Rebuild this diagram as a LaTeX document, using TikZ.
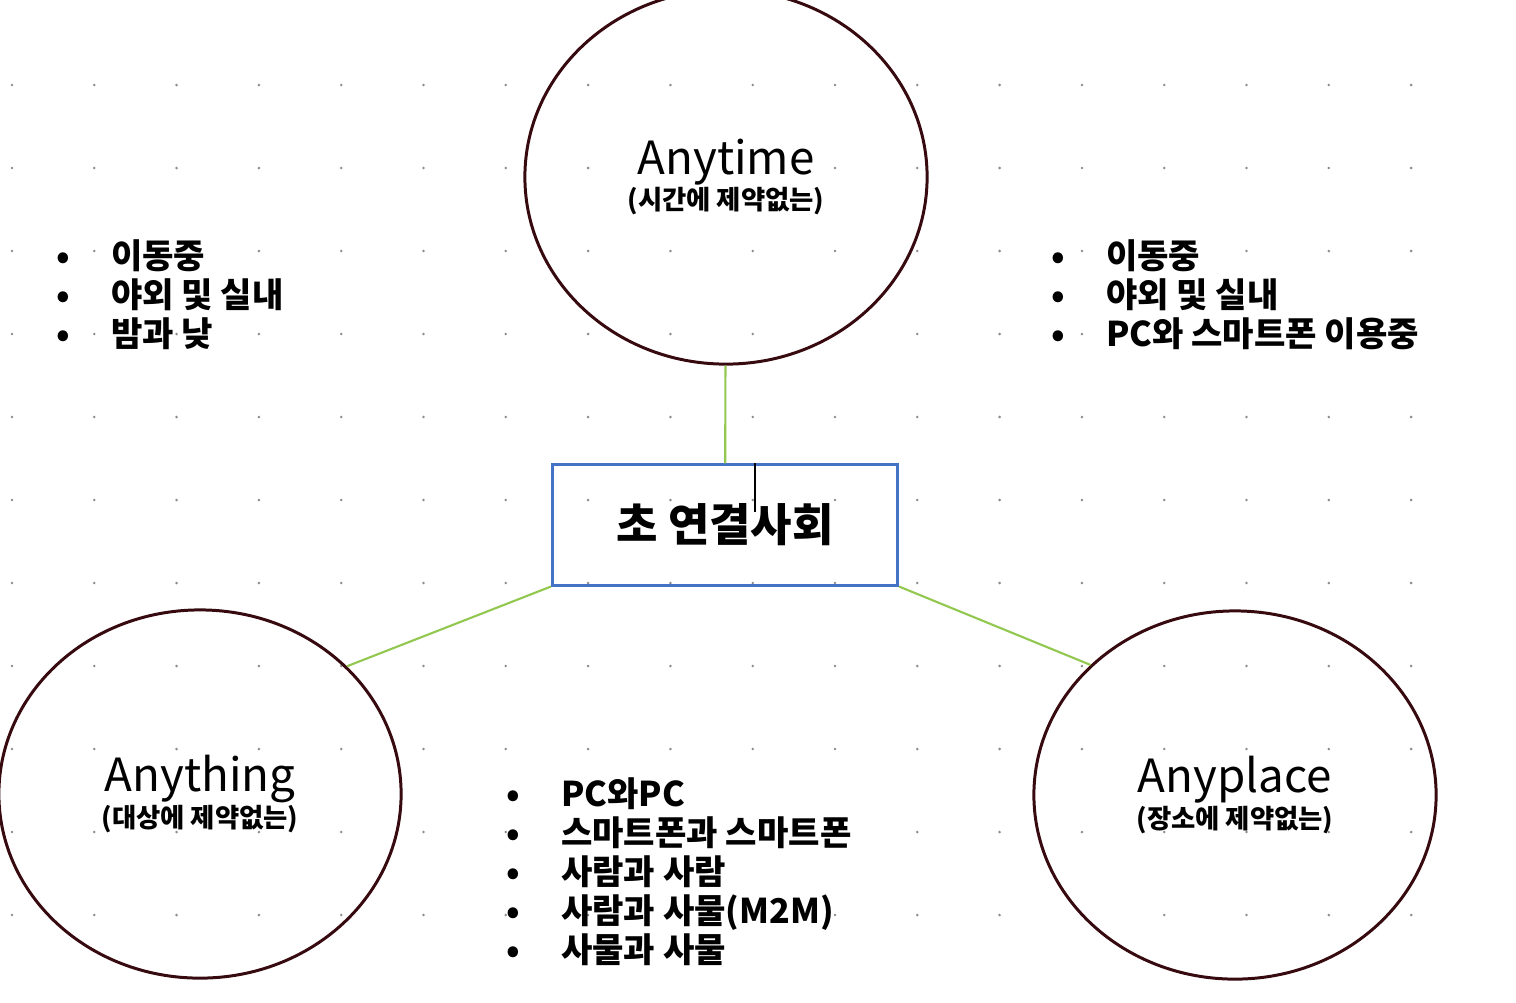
\documentclass[tikz,border=0pt]{standalone}
\usepackage{fontspec}
\setmainfont{Noto Sans CJK KR}
\usetikzlibrary{shapes.geometric,positioning}

\definecolor{ringred}{RGB}{55,10,16}
\definecolor{boxblue}{RGB}{68,114,196}
\definecolor{linkgreen}{RGB}{146,200,80}
\definecolor{dotgray}{RGB}{140,140,140}

\newcommand{\itm}[1]{\makebox[15.5pt][l]{•}#1}

\tikzset{
  any/.style={ellipse, draw=ringred, line width=0.85pt, inner sep=0pt,
    minimum width=4.02cm, minimum height=3.68cm, align=center,
    font=\fontsize{13}{16}\selectfont},
  hub/.style={rectangle, draw=boxblue, line width=0.85pt,
    minimum width=3.45cm, minimum height=1.2cm, font=\bfseries\fontsize{12.8}{14}\selectfont},
  link/.style={draw=linkgreen, line width=0.6pt},
  itemlist/.style={inner sep=0pt, align=left, font=\bfseries\fontsize{9.7}{11.1}\selectfont},
  griddot/.style={fill=dotgray}
}

\newcommand{\sub}[1]{{\bfseries\fontsize{7.5}{9}\selectfont #1}}

\begin{document}
\begin{tikzpicture}[x=0.01cm,y=-0.01cm]
  \useasboundingbox (0,0) rectangle (1516,1002);
  \clip (0,0) rectangle (1516,1002);

  % dot grid
  \foreach \i in {0,...,17}
    \foreach \j in {0,...,10}
      \fill[griddot] (12+82.3*\i,85+83*\j) circle (0.4pt);

  \node[any, minimum height=3.74cm] (anytime) at (726,177) {Anytime\\[-6pt]\sub{(시간에 제약없는)}};
  \node[any] (anything) at (200,794) {Anything\\[-6pt]\sub{(대상에 제약없는)}};
  \node[any] (anyplace) at (1235,795) {Anyplace\\[-6pt]\sub{(장소에 제약없는)}};

  \node[hub] (hub) at (725,525) {초 연결사회};
  \coordinate (caret) at (755,512);
  \draw[line width=0.5pt] (hub.north -| caret) -- (caret);

  \draw[link] (anytime) -- (hub);
  \draw[link] (hub.south west) -- (anything.41.5);
  \draw[link] (hub.south east) -- (anyplace.138.4);

  \node[itemlist, anchor=west] (leftlist) at (56,295)
    {\itm{이동중}\\\itm{야외 및 실내}\\\itm{밤과 낮}};
  \node[itemlist, anchor=west] (rightlist) at (1051,295)
    {\itm{이동중}\\\itm{야외 및 실내}\\\itm{PC와 스마트폰 이용중}};
  \node[itemlist, anchor=west] (bottomlist) at (506,872)
    {\itm{PC와PC}\\\itm{스마트폰과 스마트폰}\\\itm{사람과 사람}\\\itm{사람과 사물(M2M)}\\\itm{사물과 사물}};
\end{tikzpicture}
\end{document}
